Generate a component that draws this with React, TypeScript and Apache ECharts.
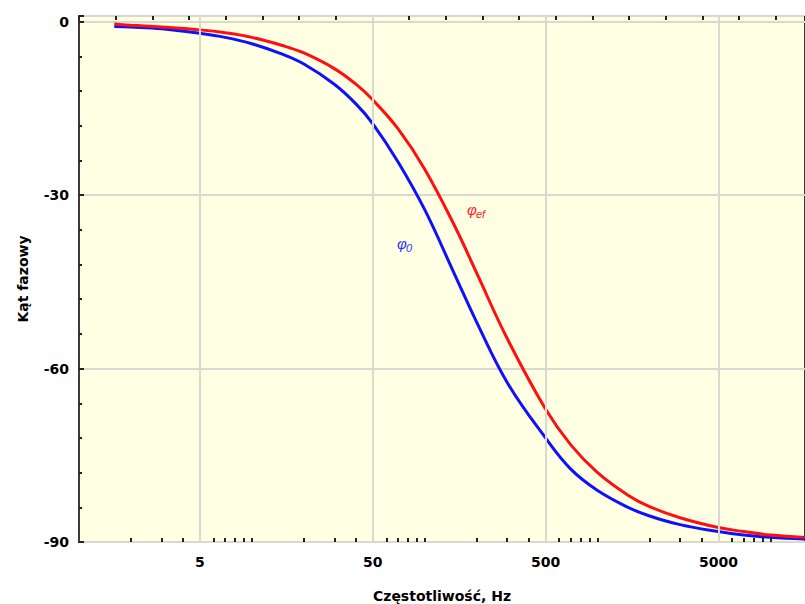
import React, { useEffect, useRef } from "react";
import * as echarts from "echarts";

// Frequency (Hz) and phase (degrees)
const freqs = [1.6, 2, 3, 5, 7, 10, 15, 20, 30, 40, 50, 70, 100, 150, 200, 300, 500, 700, 1000, 1500, 2000, 3000, 5000, 7000, 10000, 15700];
const phase0 = [-0.8, -0.9, -1.2, -2.0, -2.7, -3.8, -5.6, -7.3, -10.8, -14.2, -17.6, -24.2, -32.5, -43.9, -52.0, -62.4, -72.0, -77.4, -81.1, -84.0, -85.5, -87.0, -88.2, -88.8, -89.2, -89.5];
const phaseEf = [-0.4, -0.6, -0.9, -1.4, -1.9, -2.7, -4.1, -5.4, -8.1, -10.8, -13.5, -18.5, -25.5, -35.5, -43.5, -54.8, -67.0, -73.2, -78.0, -81.9, -83.9, -85.8, -87.5, -88.2, -88.8, -89.2];
const xLabelFreqs = [5, 50, 500, 5000];
const yTickLabels = [0, -30, -60, -90];

const X_MAX = 4.2; // log10 of right-edge frequency
const F = "'DejaVu Sans', sans-serif";
const FI = "'Liberation Sans', Arial, sans-serif";

export default function App() {
  const ref = useRef<HTMLDivElement>(null);
  useEffect(() => {
    if (!ref.current) return;
    const chart = echarts.init(ref.current, undefined, { renderer: "svg" });
    const minorTicks: number[] = [];
    for (let k = 0; k <= 4; k++) {
      for (let m = 1; m <= 9; m++) {
        const v = Math.log10(m * Math.pow(10, k));
        if (v > 0.001 && v < X_MAX) minorTicks.push(v);
      }
    }
    const labelVals = xLabelFreqs.map((f) => Math.log10(f));
    const toData = (fs: number[], ps: number[]) => fs.map((f, i) => [Math.log10(f), ps[i]]);
    chart.setOption({
      animation: false,
      backgroundColor: "#ffffff",
      grid: {
        left: 79,
        right: 0,
        top: 16,
        bottom: 62,
        outerBoundsMode: "none",
        containLabel: false,
        show: true,
        backgroundColor: "#FFFFE3",
        borderColor: "#3a3a3a",
        borderWidth: 2,
      },
      xAxis: [
        {
          type: "value",
          min: 0,
          max: X_MAX,
          position: "bottom",
          name: "Częstotliwość, Hz",
          nameLocation: "middle",
          nameGap: 47,
          nameTextStyle: { fontFamily: F, fontWeight: "bold", fontSize: 14, color: "#000" },
          axisLine: { show: false, onZero: false },
          axisTick: {
            show: true,
            inside: true,
            length: 4,
            customValues: minorTicks,
            lineStyle: { color: "#222", width: 2 },
          },
          axisLabel: {
            customValues: labelVals,
            formatter: (v: number) => String(Math.round(Math.pow(10, v))),
            fontFamily: F,
            fontWeight: "bold",
            fontSize: 14,
            color: "#000",
            margin: 13,
          },
          splitLine: { show: false },
        },
        {
          type: "value",
          min: 0,
          max: 19.8,
          interval: 1,
          position: "top",
          axisLine: { show: false, onZero: false },
          axisTick: { show: true, inside: true, length: 4, lineStyle: { color: "#222", width: 2 } },
          axisLabel: { show: false },
          splitLine: { show: false },
        },
      ],
      yAxis: {
        type: "value",
        min: -90,
        max: 1,
        interval: 30,
        name: "Kąt fazowy",
        nameLocation: "middle",
        nameGap: 49,
        nameTextStyle: { fontFamily: F, fontWeight: "bold", fontSize: 14, color: "#000" },
        axisLine: { show: false, onZero: false },
        axisTick: { show: true, inside: true, length: 5, lineStyle: { color: "#222", width: 2 } },
        minorTick: { show: true, splitNumber: 5, length: 3, lineStyle: { color: "#222", width: 2 } },
        axisLabel: {
          showMaxLabel: false,
          formatter: (v: number) => (yTickLabels.indexOf(v) >= 0 ? String(v) : ""),
          fontFamily: F,
          fontWeight: "bold",
          fontSize: 14,
          color: "#000",
          margin: 10,
        },
        splitLine: { show: true, lineStyle: { color: "#d9d9d0", width: 2 } },
      },
      series: [
        {
          type: "line",
          name: "grid",
          z: 1,
          data: [],
          silent: true,
          markLine: {
            silent: true,
            symbol: "none",
            label: { show: false },
            lineStyle: { color: "#d9d9d0", width: 2, type: "solid" },
            data: labelVals.map((v) => ({ xAxis: v })),
          },
        },
        {
          type: "line",
          name: "phi0",
          data: toData(freqs, phase0),
          showSymbol: false,
          smooth: 0.4,
          lineStyle: { color: "#1010ff", width: 3 },
          z: 3,
        },
        {
          type: "line",
          name: "phief",
          data: toData(freqs, phaseEf),
          showSymbol: false,
          smooth: 0.4,
          lineStyle: { color: "#ff1010", width: 3 },
          z: 4,
        },
      ],
      graphic: [
        {
          type: "text",
          x: 397,
          y: 236,
          style: { text: "φ", fontFamily: FI, fontStyle: "italic", fontSize: 15, fill: "#3030ff" },
        },
        {
          type: "text",
          x: 406,
          y: 242,
          style: { text: "0", fontFamily: FI, fontStyle: "italic", fontSize: 11, fill: "#3030ff" },
        },
        {
          type: "text",
          x: 467,
          y: 202,
          style: { text: "φ", fontFamily: FI, fontStyle: "italic", fontSize: 15, fill: "#ff2020" },
        },
        {
          type: "text",
          x: 476,
          y: 208,
          style: { text: "ef", fontFamily: FI, fontStyle: "italic", fontSize: 11, fill: "#ff2020" },
        },
      ],
    });
    return () => chart.dispose();
  }, []);
  return <div ref={ref} style={{ position: "absolute", left: 0, top: 0, width: 805, height: 604 }} />;
}
